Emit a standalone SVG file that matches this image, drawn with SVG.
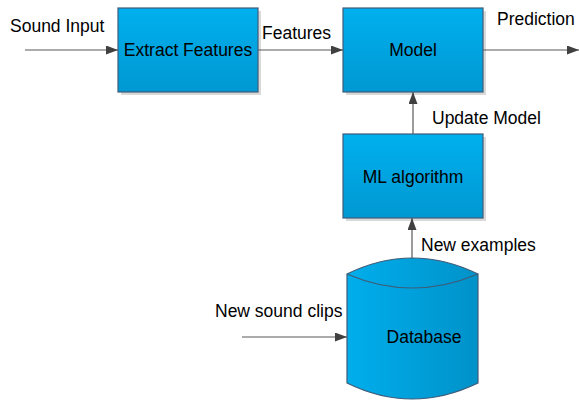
<svg xmlns="http://www.w3.org/2000/svg" width="579" height="400" viewBox="0 0 579 400">
<defs>
<linearGradient id="boxg" x1="0" y1="0" x2="0" y2="1">
<stop offset="0" stop-color="#00B0EE"/>
<stop offset="1" stop-color="#0098D2"/>
</linearGradient>
<linearGradient id="cylg" x1="0" y1="0" x2="1" y2="0">
<stop offset="0" stop-color="#00AEEC"/>
<stop offset="1" stop-color="#0092C9"/>
</linearGradient>
<marker id="arr" markerWidth="12" markerHeight="9" refX="12" refY="4.5" orient="auto" markerUnits="userSpaceOnUse">
<path d="M0,0 L12,4.5 L0,9 Z" fill="#404040"/>
</marker>
</defs>
<style>
.box{fill:url(#boxg);stroke:#3E5C78;stroke-width:1.2}
.shadow{fill:#D9D9D9}
.conn{stroke:#595959;stroke-width:1.2;fill:none;marker-end:url(#arr)}
text{font-family:"Liberation Sans",Arial,sans-serif;font-size:17.5px;fill:#000}
.c{text-anchor:middle}
</style>
<rect width="579" height="400" fill="#fff"/>
<g id="extract">
<rect class="shadow" x="121" y="11" width="140" height="84"/>
<rect class="box" x="118" y="8" width="140" height="84"/>
<text class="c" x="188" y="56">Extract Features</text>
</g>
<g id="model">
<rect class="shadow" x="346" y="11" width="140" height="84"/>
<rect class="box" x="343" y="8" width="140" height="84"/>
<text class="c" x="413" y="56">Model</text>
</g>
<g id="ml">
<rect class="shadow" x="346" y="137" width="140" height="84"/>
<rect class="box" x="343" y="134" width="140" height="84"/>
<text class="c" x="413" y="183">ML algorithm</text>
</g>
<g id="database">
<path d="M347,274 Q412,242 478,274 L478,383 Q412,415 347,383 Z" fill="url(#cylg)" stroke="#3E5C78" stroke-width="1.2"/>
<path d="M347,274 Q412,302 478,274" fill="none" stroke="#3E5C78" stroke-width="1.2"/>
<text class="c" x="424" y="343">Database</text>
</g>
<g id="connectors">
<path class="conn" d="M25,50 L118,50"/>
<path class="conn" d="M258,50 L343,50"/>
<path class="conn" d="M483,50 L579,50"/>
<path class="conn" d="M413,134 L413,92"/>
<path class="conn" d="M412,258 L412,218"/>
<path class="conn" d="M242,337 L347,337"/>
</g>
<g id="labels">
<text x="10" y="32">Sound Input</text>
<text x="262" y="39">Features</text>
<text x="497" y="25">Prediction</text>
<text x="432" y="124">Update Model</text>
<text x="421" y="251">New examples</text>
<text x="215" y="317">New sound clips</text>
</g>
</svg>
